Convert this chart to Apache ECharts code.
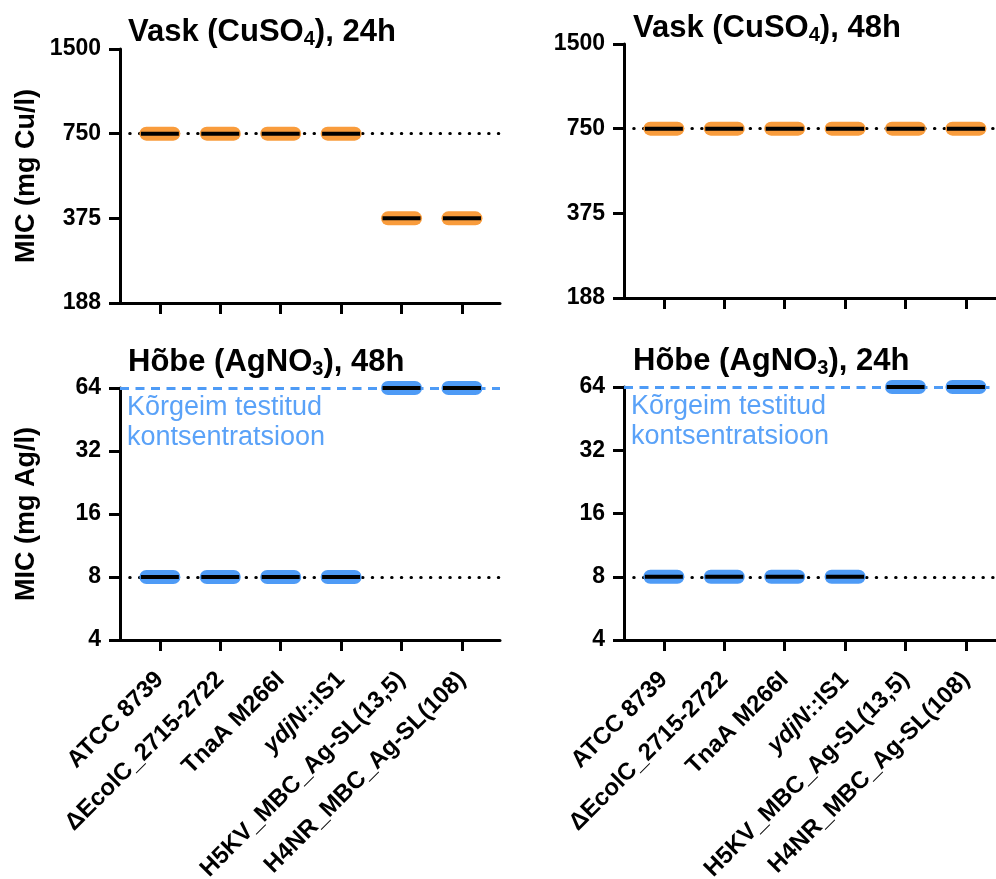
<!DOCTYPE html>
<html><head><meta charset="utf-8">
<script src="https://cdn.jsdelivr.net/npm/echarts@6/dist/echarts.min.js"></script>
<style>html,body{margin:0;padding:0;background:#fff}#c{width:996px;height:879px}</style>
</head><body><div id="c"></div>
<script>
// ---- data ----
const strains = ['ATCC 8739', 'ΔEcolC_2715-2722', 'TnaA M266I', 'ydjN::IS1', 'H5KV_MBC_Ag-SL(13,5)', 'H4NR_MBC_Ag-SL(108)'];
const cu24 = [750, 750, 750, 750, 375, 375];
const cu48 = [750, 750, 750, 750, 750, 750];
const ag48 = [8, 8, 8, 8, 64, 64];
const ag24 = [8, 8, 8, 8, 64, 64];
const cuTicks = [187.5, 375, 750, 1500];
const agTicks = [4, 8, 16, 32, 64];
const cuRef = 750;
const agRef = 8;
const agMaxTested = 64;
const panelTitles = ['{a|Vask (CuSO}{s|4}{a|), 24h}', '{a|Vask (CuSO}{s|4}{a|), 48h}', '{a|Hõbe (AgNO}{s|3}{a|), 48h}', '{a|Hõbe (AgNO}{s|3}{a|), 24h}'];
const yNames = ['MIC (mg Cu/l)', '', 'MIC (mg Ag/l)', ''];
const noteText = 'Kõrgeim testitud\nkontsentratsioon';

// ---- styles ----
const ORANGE = '#F99C3C', BLUE = '#4E9BF6', TXTBLUE = '#5AA2F8';
const FONT = 'Liberation Sans, Arial, sans-serif';
const PILL = 'path://M7,0H34A7,7,0,0,1,34,14H7A7,7,0,0,1,7,0Z';
const idx = strains.map((s, i) => i);

const panels = [
  {grid: {left: 120, top: 49, width: 380, height: 254}, vals: cu24, ticks: cuTicks, color: ORANGE, lines: [{v: cuRef, t: 'dot'}], labels: false},
  {grid: {left: 624, top: 44, width: 380, height: 254}, vals: cu48, ticks: cuTicks, color: ORANGE, lines: [{v: cuRef, t: 'dot'}], labels: false},
  {grid: {left: 120, top: 388, width: 380, height: 252}, vals: ag48, ticks: agTicks, color: BLUE, lines: [{v: agRef, t: 'dot'}, {v: agMaxTested, t: 'dash'}], labels: true},
  {grid: {left: 624, top: 387, width: 380, height: 253}, vals: ag24, ticks: agTicks, color: BLUE, lines: [{v: agRef, t: 'dot'}, {v: agMaxTested, t: 'dash'}], labels: true}
];
const titlePos = [{left: 128, top: 15}, {left: 633, top: 11}, {left: 128, top: 345}, {left: 633, top: 344}];

const option = {
  animation: false,
  textStyle: {fontFamily: FONT},
  grid: panels.map(p => Object.assign({containLabel: false, outerBoundsMode: 'none'}, p.grid)),
  title: panelTitles.map((t, i) => ({
    text: t, left: titlePos[i].left, top: titlePos[i].top, padding: 0,
    textStyle: {rich: {
      a: {fontSize: 31, fontWeight: 'bold', color: '#000', fontFamily: FONT, lineHeight: 34},
      s: {fontSize: 20, fontWeight: 'bold', color: '#000', fontFamily: FONT, lineHeight: 12, verticalAlign: 'bottom'}
    }}
  })).concat([
    {text: noteText, left: 127, top: 393, padding: 0, textStyle: {fontSize: 27, fontWeight: 'normal', color: TXTBLUE, lineHeight: 30, fontFamily: FONT}},
    {text: noteText, left: 631, top: 392, padding: 0, textStyle: {fontSize: 27, fontWeight: 'normal', color: TXTBLUE, lineHeight: 30, fontFamily: FONT}}
  ]),
  xAxis: panels.map((p, i) => ({
    type: 'value', gridIndex: i, min: -0.66, max: 5.63,
    splitLine: {show: false},
    axisLine: {show: true, onZero: false, lineStyle: {color: '#000', width: 3}},
    axisTick: {show: true, customValues: idx, length: 11, lineStyle: {color: '#000', width: 3}},
    axisLabel: {
      show: p.labels, customValues: idx, rotate: 45, margin: 36,
      fontSize: 24, fontWeight: 'bold', color: '#000', fontFamily: FONT,
      formatter: v => {
        const s = strains[Math.round(v)];
        if (s === 'ydjN::IS1') return '{i|ydjN}::IS1';
        return s;
      },
      rich: {i: {fontSize: 24, fontWeight: 'bold', fontStyle: 'italic', color: '#000', fontFamily: FONT}}
    }
  })),
  yAxis: panels.map((p, i) => ({
    type: 'log', logBase: 2, gridIndex: i, min: p.ticks[0], max: p.ticks[p.ticks.length - 1],
    name: yNames[i], nameLocation: 'middle', nameGap: 80, nameRotate: 90,
    nameTextStyle: {fontSize: 27, fontWeight: 'bold', color: '#000', fontFamily: FONT},
    splitLine: {show: false},
    axisLine: {show: true, onZero: false, lineStyle: {color: '#000', width: 3}},
    axisTick: {show: true, customValues: p.ticks, length: 11, lineStyle: {color: '#000', width: 3}},
    axisLabel: {show: true, customValues: p.ticks, margin: 19, fontSize: 23, fontWeight: 'bold', color: '#000', fontFamily: FONT,
      formatter: v => String(Math.round(v))}
  })),
  series: []
};

panels.forEach((p, i) => {
  option.series.push({
    type: 'scatter', xAxisIndex: i, yAxisIndex: i, data: [], z: 1, silent: true,
    markLine: {
      silent: true, symbol: 'none', z: 1, animation: false,
      label: {show: false},
      data: p.lines.map(l => ({
        yAxis: l.v,
        lineStyle: l.t === 'dot'
          ? {color: '#000', width: 3, type: [0.5, 9.2], cap: 'round'}
          : {color: BLUE, width: 3, type: [9, 6.5], cap: 'butt'}
      }))
    }
  });
  option.series.push({
    type: 'scatter', xAxisIndex: i, yAxisIndex: i, z: 3, silent: true,
    symbol: PILL, symbolSize: [41, 14],
    itemStyle: {color: p.color, opacity: 1},
    data: p.vals.map((v, k) => [k, v])
  });
  option.series.push({
    type: 'scatter', xAxisIndex: i, yAxisIndex: i, z: 4, silent: true,
    symbol: 'rect', symbolSize: [38, 4],
    itemStyle: {color: '#000', opacity: 1},
    data: p.vals.map((v, k) => [k, v])
  });
});

const chart = echarts.init(document.getElementById('c'), null, {renderer: 'canvas'});
chart.setOption(option);
</script>
</body></html>
